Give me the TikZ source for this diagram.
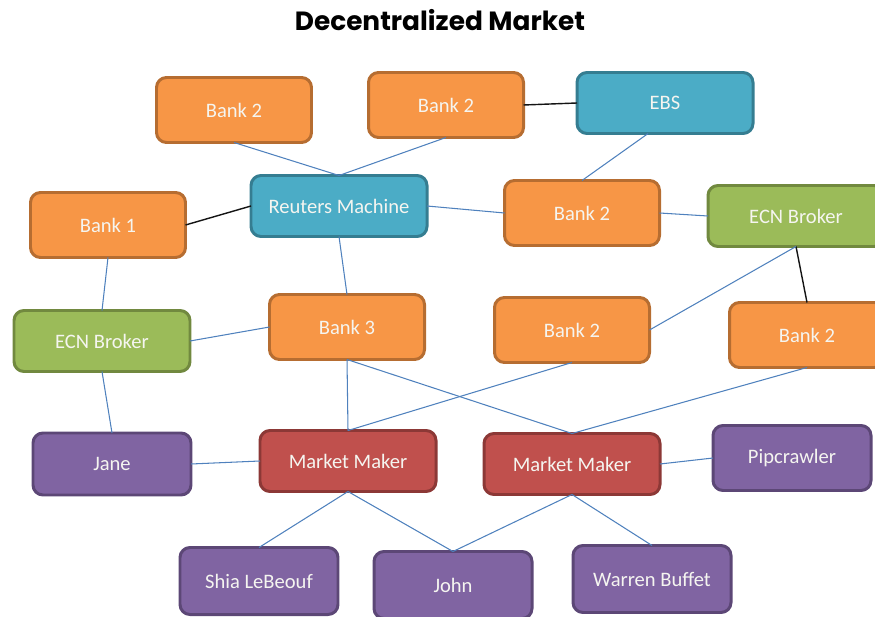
\documentclass[tikz,border=0pt]{standalone}
\usepackage{fontspec}
\setmainfont{Carlito}
\newfontfamily\titlefont{Poppins}
\usepackage{xcolor}
\usepackage{tkz-graph}

\tikzset{
  VertexStyle/.style={},
  box/.style={shape=rectangle,rounded corners=0.2cm,line width=1.7pt,
    inner sep=2pt,outer sep=0pt,font=\fontsize{11.7}{14}\selectfont},
  bankbox/.style={box,minimum width=3.1cm,minimum height=1.3cm,draw=cbank,fill=cfbank,text=clv},
  machinebox/.style={box,minimum width=3.52cm,minimum height=1.22cm,draw=cmach,fill=cfmach,text=clv},
  ecnbox/.style={box,minimum width=3.52cm,minimum height=1.22cm,draw=cecn,fill=cfecn,text=clv},
  makerbox/.style={box,minimum width=3.52cm,minimum height=1.22cm,draw=cmm,fill=cfmm,text=clv},
  traderbox/.style={box,minimum width=3.16cm,minimum height=1.24cm,draw=ctr,fill=cftr,text=clv},
}

\begin{document}
\begin{tikzpicture}
\definecolor{cbank}{RGB}{182,109,49}
\definecolor{cfbank}{RGB}{247,150,70}
\definecolor{cmach}{RGB}{53,125,145}
\definecolor{cfmach}{RGB}{75,172,198}
\definecolor{cecn}{RGB}{113,137,63}
\definecolor{cfecn}{RGB}{155,187,89}
\definecolor{cmm}{RGB}{140,56,54}
\definecolor{cfmm}{RGB}{192,80,77}
\definecolor{ctr}{RGB}{92,71,118}
\definecolor{cftr}{RGB}{128,100,162}
\definecolor{clv}{RGB}{245,245,240}
\definecolor{cblue}{RGB}{79,129,189}
\definecolor{cblack}{RGB}{20,20,20}
%
\useasboundingbox (0,0) rectangle (17.5,12.32);
\node (title) at (8.8,11.92) {\titlefont\bfseries\fontsize{15}{18}\selectfont Decentralized Market};
%
\Vertex[style={bankbox},LabelOut=false,L=\hbox{Bank 2},x=4.68cm,y=10.12cm]{bankTL}
\Vertex[style={bankbox},LabelOut=false,L=\hbox{Bank 2},x=8.92cm,y=10.22cm]{bankTM}
\Vertex[style={machinebox},LabelOut=false,L=\hbox{EBS},x=13.3cm,y=10.26cm]{ebs}
\Vertex[style={machinebox},LabelOut=false,L=\hbox{Reuters Machine},x=6.78cm,y=8.2cm]{reuters}
\Vertex[style={bankbox},LabelOut=false,L=\hbox{Bank 1},x=2.16cm,y=7.82cm]{bankOne}
\Vertex[style={bankbox},LabelOut=false,L=\hbox{Bank 2},x=11.64cm,y=8.06cm]{bankMR}
\Vertex[style={ecnbox},LabelOut=false,L=\hbox{ECN Broker},x=15.92cm,y=8.0cm]{ecnRight}
\Vertex[style={ecnbox},LabelOut=false,L=\hbox{ECN Broker},x=2.04cm,y=5.5cm]{ecnLeft}
\Vertex[style={bankbox},LabelOut=false,L=\hbox{Bank 3},x=6.94cm,y=5.78cm]{bankThree}
\Vertex[style={bankbox},LabelOut=false,L=\hbox{Bank 2},x=11.44cm,y=5.72cm]{bankMid}
\Vertex[style={bankbox},LabelOut=false,L=\hbox{Bank 2},x=16.14cm,y=5.62cm]{bankRight}
\Vertex[style={traderbox},LabelOut=false,L=\hbox{Jane},x=2.24cm,y=3.04cm]{jane}
\Vertex[style={makerbox},LabelOut=false,L=\hbox{Market Maker},x=6.96cm,y=3.1cm]{mmLeft}
\Vertex[style={makerbox},LabelOut=false,L=\hbox{Market Maker},x=11.44cm,y=3.04cm]{mmRight}
\Vertex[style={traderbox,minimum height=1.3cm},LabelOut=false,L=\hbox{Pipcrawler},x=15.84cm,y=3.16cm]{pip}
\Vertex[style={traderbox,minimum height=1.34cm},LabelOut=false,L=\hbox{Shia LeBeouf},x=5.18cm,y=0.7cm]{shia}
\Vertex[style={traderbox,minimum height=1.34cm},LabelOut=false,L=\hbox{John},x=9.06cm,y=0.62cm]{john}
\Vertex[style={traderbox,minimum height=1.34cm},LabelOut=false,L=\hbox{Warren Buffet},x=13.04cm,y=0.74cm]{warren}
%
\Edge[lw=0.6pt,style={color=cblue}](bankTL.south)(reuters.north)
\Edge[lw=0.6pt,style={color=cblue}](bankTM.south)(reuters.north)
\Edge[lw=0.8pt,style={color=cblack}](bankOne.east)(reuters.west)
\Edge[lw=0.8pt,style={color=cblack}](bankTM.east)(ebs.west)
\Edge[lw=0.6pt,style={color=cblue}](ebs.241)(bankMR.north)
\Edge[lw=0.6pt,style={color=cblue}](reuters.east)(bankMR.west)
\Edge[lw=0.6pt,style={color=cblue}](bankMR.east)(ecnRight.west)
\Edge[lw=0.8pt,style={color=cblack}](ecnRight.south)(bankRight.north)
\Edge[lw=0.6pt,style={color=cblue}](ecnRight.south)(bankMid.east)
\Edge[lw=0.6pt,style={color=cblue}](reuters.south)(bankThree.north)
\Edge[lw=0.6pt,style={color=cblue}](bankOne.south)(ecnLeft.north)
\Edge[lw=0.6pt,style={color=cblue}](ecnLeft.east)(bankThree.west)
\Edge[lw=0.6pt,style={color=cblue}](ecnLeft.south)(jane.north)
\Edge[lw=0.6pt,style={color=cblue}](jane.east)(mmLeft.west)
\Edge[lw=0.6pt,style={color=cblue}](bankThree.south)(mmLeft.north)
\Edge[lw=0.6pt,style={color=cblue}](bankThree.south)(mmRight.north)
\Edge[lw=0.6pt,style={color=cblue}](bankMid.south)(mmLeft.north)
\Edge[lw=0.6pt,style={color=cblue}](bankRight.south)(mmRight.north)
\Edge[lw=0.6pt,style={color=cblue}](mmRight.east)(pip.west)
\Edge[lw=0.6pt,style={color=cblue}](mmLeft.south)(shia.north)
\Edge[lw=0.6pt,style={color=cblue}](mmLeft.south)(john.north)
\Edge[lw=0.6pt,style={color=cblue}](mmRight.south)(john.north)
\Edge[lw=0.6pt,style={color=cblue}](mmRight.south)(warren.north)
%
\end{tikzpicture}
\end{document}
